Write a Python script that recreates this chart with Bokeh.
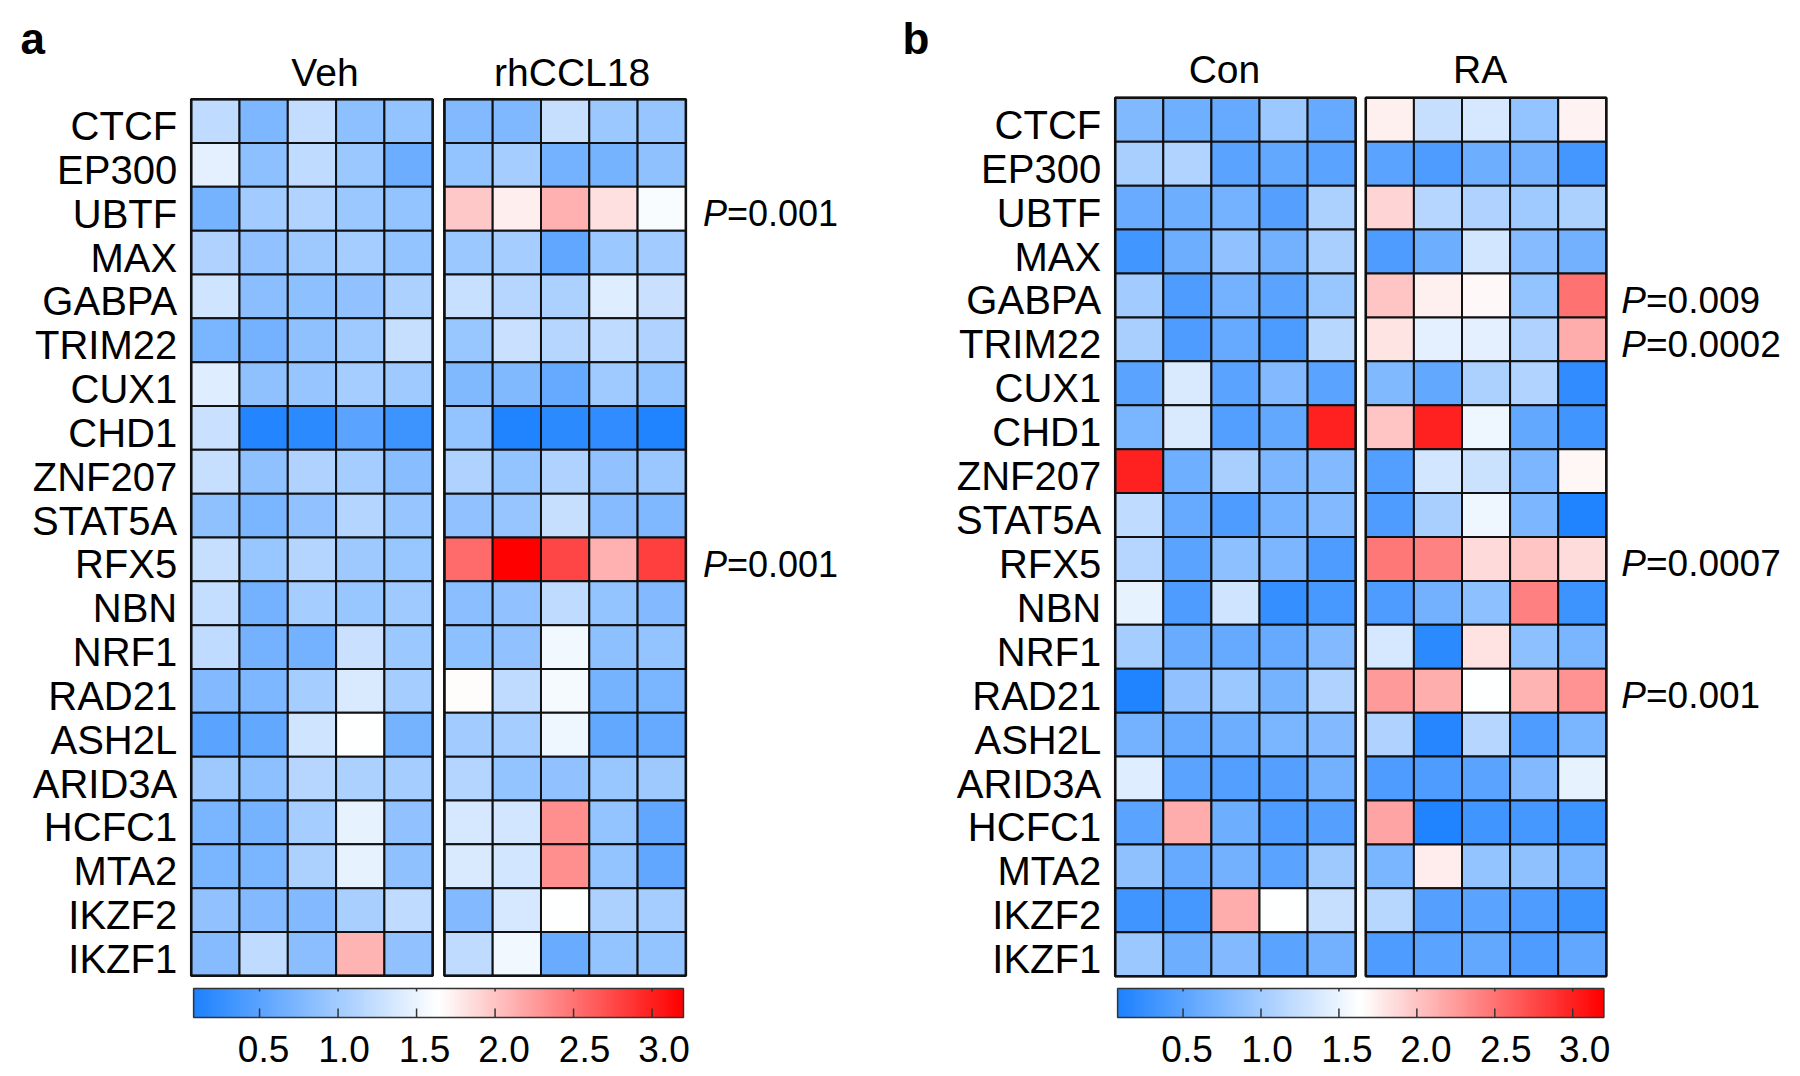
from bokeh.plotting import figure
from bokeh.layouts import row
from bokeh.models import Range1d, LinearColorMapper, ColumnDataSource
from bokeh.transform import transform
from bokeh.core.properties import value
from bokeh.embed import file_html
from bokeh.resources import INLINE

# ---------------- data ----------------
genes = ["CTCF", "EP300", "UBTF", "MAX", "GABPA", "TRIM22", "CUX1", "CHD1", "ZNF207", "STAT5A",
         "RFX5", "NBN", "NRF1", "RAD21", "ASH2L", "ARID3A", "HCFC1", "MTA2", "IKZF2", "IKZF1"]

veh = [
    [1.20, 0.75, 1.22, 0.85, 0.90],
    [1.45, 0.85, 1.20, 0.95, 0.62],
    [0.70, 1.00, 1.10, 0.95, 0.90],
    [1.08, 0.88, 0.96, 1.02, 0.90],
    [1.30, 0.83, 0.85, 0.88, 1.07],
    [0.72, 0.68, 0.86, 0.97, 1.25],
    [1.42, 0.86, 0.92, 1.02, 0.98],
    [1.27, 0.12, 0.18, 0.50, 0.30],
    [1.25, 0.86, 1.08, 1.03, 0.82],
    [0.87, 0.72, 0.88, 1.12, 0.92],
    [1.25, 0.93, 1.12, 0.96, 0.93],
    [1.23, 0.68, 1.02, 0.93, 0.98],
    [1.20, 0.68, 0.68, 1.27, 0.95],
    [0.78, 0.74, 1.02, 1.38, 1.02],
    [0.50, 0.56, 1.30, 1.64, 0.70],
    [0.96, 0.85, 1.14, 1.07, 1.03],
    [0.72, 0.70, 1.03, 1.47, 0.88],
    [0.72, 0.72, 1.07, 1.47, 0.86],
    [0.88, 0.78, 0.78, 1.05, 1.20],
    [0.80, 1.20, 0.83, 2.10, 0.88],
]
rhccl18 = [
    [0.78, 0.76, 1.25, 0.95, 0.92],
    [0.90, 1.03, 0.68, 0.70, 0.86],
    [1.98, 1.74, 2.12, 1.83, 1.60],
    [0.95, 1.03, 0.55, 0.95, 1.00],
    [1.26, 1.14, 1.07, 1.42, 1.27],
    [0.93, 1.27, 1.14, 1.20, 1.08],
    [0.77, 0.77, 0.58, 0.97, 0.90],
    [0.90, 0.10, 0.18, 0.22, 0.10],
    [1.08, 0.90, 1.08, 0.88, 0.94],
    [0.88, 0.92, 1.25, 0.80, 0.76],
    [2.55, 3.20, 2.77, 2.12, 2.82],
    [0.83, 0.88, 1.20, 0.90, 0.78],
    [0.85, 0.88, 1.55, 0.85, 0.90],
    [1.66, 1.20, 1.57, 0.70, 0.72],
    [1.00, 1.02, 1.53, 0.56, 0.58],
    [1.12, 0.90, 0.88, 0.93, 0.96],
    [1.35, 1.33, 2.33, 0.90, 0.55],
    [1.38, 1.33, 2.33, 0.90, 0.55],
    [0.78, 1.35, 1.64, 1.07, 1.02],
    [1.20, 1.55, 0.60, 0.90, 0.90],
]
con = [
    [0.77, 0.65, 0.58, 0.95, 0.58],
    [1.05, 1.10, 0.50, 0.56, 0.50],
    [0.60, 0.64, 0.68, 0.47, 1.07],
    [0.33, 0.64, 0.88, 0.67, 1.05],
    [1.00, 0.42, 0.68, 0.50, 0.93],
    [1.05, 0.42, 0.58, 0.40, 1.15],
    [0.50, 1.38, 0.50, 0.78, 0.50],
    [0.72, 1.38, 0.45, 0.56, 3.00],
    [3.00, 0.65, 1.05, 0.73, 0.78],
    [1.20, 0.58, 0.42, 0.68, 0.78],
    [1.14, 0.50, 0.85, 0.73, 0.42],
    [1.47, 0.42, 1.30, 0.25, 0.37],
    [1.02, 0.60, 0.58, 0.58, 0.78],
    [0.10, 0.88, 0.95, 0.70, 1.08],
    [0.68, 0.58, 0.64, 0.72, 0.78],
    [1.42, 0.50, 0.45, 0.47, 0.67],
    [0.50, 2.15, 0.64, 0.42, 0.47],
    [0.86, 0.58, 0.67, 0.50, 0.96],
    [0.32, 0.36, 2.15, 1.64, 1.25],
    [0.95, 0.64, 0.78, 0.50, 0.67],
]
ra = [
    [1.73, 1.25, 1.35, 0.90, 1.72],
    [0.50, 0.42, 0.64, 0.67, 0.34],
    [1.90, 1.14, 1.08, 0.98, 1.07],
    [0.42, 0.64, 1.33, 0.80, 0.67],
    [2.00, 1.73, 1.68, 0.90, 2.50],
    [1.80, 1.45, 1.45, 1.08, 2.15],
    [0.77, 0.56, 1.07, 1.10, 0.22],
    [2.00, 3.00, 1.52, 0.56, 0.32],
    [0.45, 1.33, 1.28, 0.73, 1.70],
    [0.42, 1.05, 1.52, 0.73, 0.10],
    [2.46, 2.40, 1.86, 2.00, 1.85],
    [0.42, 0.67, 0.85, 2.42, 0.30],
    [1.35, 0.18, 1.82, 0.85, 0.72],
    [2.25, 2.13, 1.63, 2.10, 2.30],
    [1.08, 0.14, 1.14, 0.42, 0.72],
    [0.42, 0.42, 0.50, 0.78, 1.47],
    [2.20, 0.10, 0.32, 0.36, 0.30],
    [0.72, 1.76, 0.90, 0.86, 0.72],
    [1.15, 0.47, 0.50, 0.42, 0.30],
    [0.42, 0.50, 0.56, 0.42, 0.55],
]

groups_a = ["Veh", "rhCCL18"]
groups_b = ["Con", "RA"]
pgenes_a = ["UBTF", "RFX5"]
ptext_a = ["=0.001", "=0.001"]
pgenes_b = ["GABPA", "TRIM22", "RFX5", "RAD21"]
ptext_b = ["=0.009", "=0.0002", "=0.0007", "=0.001"]

cbar_ticks = [0.5, 1.0, 1.5, 2.0, 2.5, 3.0]
cbar_labels = ["0.5", "1.0", "1.5", "2.0", "2.5", "3.0"]
VMIN, VMAX = 0.08, 3.2

# ---------------- colour map ----------------
BLUE = (30, 130, 255)
WHITE = (255, 255, 255)
RED = (255, 0, 0)


def lerp(c1, c2, t):
    return tuple(int(round(a + (b - a) * t)) for a, b in zip(c1, c2))


palette = []
for k in range(256):
    t = k / 255
    c = lerp(BLUE, WHITE, t * 2) if t <= 0.5 else lerp(WHITE, RED, (t - 0.5) * 2)
    palette.append("#%02x%02x%02x" % c)
mapper = LinearColorMapper(palette=palette, low=VMIN, high=VMAX)

FONT = value("Liberation Sans")
PAGE_H = 1068
FIG_Y0 = 0
NR = len(genes)
NC = 5
LABEL_DX = [4, 6, 8, 9, 11, 12]


def panel(fig_x0, W, left_px, top_px, cw, rh, gap, data_groups, group_names, head_dx, head_dy,
          pgenes, ptexts, p_dx, p_size, letter, letter_dx):
    x0 = -(left_px - fig_x0) / cw
    x1 = x0 + W / cw
    y1 = NR + (top_px - FIG_Y0) / rh
    y0 = y1 - PAGE_H / rh
    p = figure(width=W, height=PAGE_H, x_range=Range1d(x0, x1), y_range=Range1d(y0, y1),
               output_backend="svg", toolbar_location=None,
               x_axis_location=None, y_axis_location=None, min_border=0)
    p.outline_line_color = None
    p.xgrid.visible = False
    p.ygrid.visible = False
    p.background_fill_color = "white"
    p.border_fill_color = "white"

    xs, ys, vs = [], [], []
    for g, data in enumerate(data_groups):
        for i, rv in enumerate(data):
            for j, v in enumerate(rv):
                xs.append(g * (NC + gap) + j + 0.5)
                ys.append(NR - 1 - i + 0.5)
                vs.append(v)
    src = ColumnDataSource(dict(x=xs, y=ys, v=vs))
    p.rect("x", "y", width=1, height=1, source=src, fill_color=transform("v", mapper),
           line_color="#111111", line_width=2)
    # block outlines
    p.rect(x=[NC / 2, NC + gap + NC / 2], y=[NR / 2, NR / 2], width=NC, height=NR,
           fill_color=None, line_color="#111111", line_width=2.5)

    # gene labels
    p.text(x=[0] * NR, y=[NR - 1 - i + 0.5 for i in range(NR)], text=genes,
           text_align="right", text_baseline="middle", x_offset=-14, y_offset=5,
           text_font=FONT, text_font_size="40px", text_color="black")

    # group headers
    p.text(x=[NC / 2, NC + gap + NC / 2], y=[NR, NR], text=group_names,
           x_offset=head_dx, y_offset=head_dy, text_align="center", text_baseline="alphabetic",
           text_font=FONT, text_font_size="39px", text_color="black")

    # P values
    right = 2 * NC + gap
    py = [NR - 1 - genes.index(g) + 0.5 for g in pgenes]
    p.text(x=[right] * len(py), y=py, text=["P"] * len(py), x_offset=p_dx, y_offset=5,
           text_align="left", text_baseline="middle", text_font=FONT,
           text_font_style="italic", text_font_size=p_size, text_color="black")
    pw = 0.667 * float(p_size.replace("px", ""))
    p.text(x=[right] * len(py), y=py, text=ptexts, x_offset=p_dx + pw, y_offset=5,
           text_align="left", text_baseline="middle", text_font=FONT,
           text_font_size=p_size, text_color="black")

    # colour bar
    cb_x0, cb_x1 = 0.05, right - 0.05
    cb_top = NR - (988 - top_px) / rh
    cb_bot = NR - (1017 - top_px) / rh
    nstep = 240
    step = (cb_x1 - cb_x0) / nstep
    lefts = [cb_x0 + k * step for k in range(nstep)]
    rights = [min(cb_x1, l + step * 1.6) for l in lefts]
    gv = [VMIN + (k + 0.5) / nstep * (VMAX - VMIN) for k in range(nstep)]
    cbs = ColumnDataSource(dict(left=lefts, right=rights, v=gv))
    p.quad(left="left", right="right", top=cb_top, bottom=cb_bot, source=cbs,
           fill_color=transform("v", mapper), line_color=None)
    p.quad(left=[cb_x0], right=[cb_x1], top=[cb_top], bottom=[cb_bot], fill_color=None,
           line_color="#333333", line_width=1.5)

    def pos(v):
        return cb_x0 + (v - VMIN) / (VMAX - VMIN) * (cb_x1 - cb_x0)

    tx = [pos(v) for v in cbar_ticks]
    p.segment(x0=tx, x1=tx, y0=[cb_bot] * 6, y1=[cb_bot + 9 / rh] * 6,
              line_color="#333333", line_width=1.5)
    p.segment(x0=tx, x1=tx, y0=[cb_top] * 6, y1=[cb_top - 3 / rh] * 6,
              line_color="#333333", line_width=1.5)
    lab_y = NR - (1048 - top_px) / rh
    lsrc = ColumnDataSource(dict(x=tx, y=[lab_y] * 6, t=cbar_labels, dx=LABEL_DX))
    p.text(x="x", y="y", text="t", x_offset="dx", source=lsrc, text_align="center",
           text_baseline="middle", text_font=FONT, text_font_size="37px", text_color="black")

    # panel letter
    p.text(x=[x0], y=[y1], text=[letter], x_offset=letter_dx, y_offset=38,
           text_align="left", text_baseline="alphabetic", text_font=FONT,
           text_font_style="bold", text_font_size="44px", text_color="black")
    return p


pa = panel(0, 898, 190.7, 98.7, 48.3, 43.83, 0.242, [veh, rhccl18], groups_a,
           [13, 7], -27, pgenes_a, ptext_a, 17, "36px", "a", 20)
pb = panel(898, 898, 1114.7, 97.3, 48.1, 43.92, 0.21, [con, ra], groups_b,
           [-11, -6], -28, pgenes_b, ptext_b, 15, "37px", "b", 4)

layout = row(pa, pb, spacing=0)
open("out.html", "w").write(file_html(layout, INLINE))
